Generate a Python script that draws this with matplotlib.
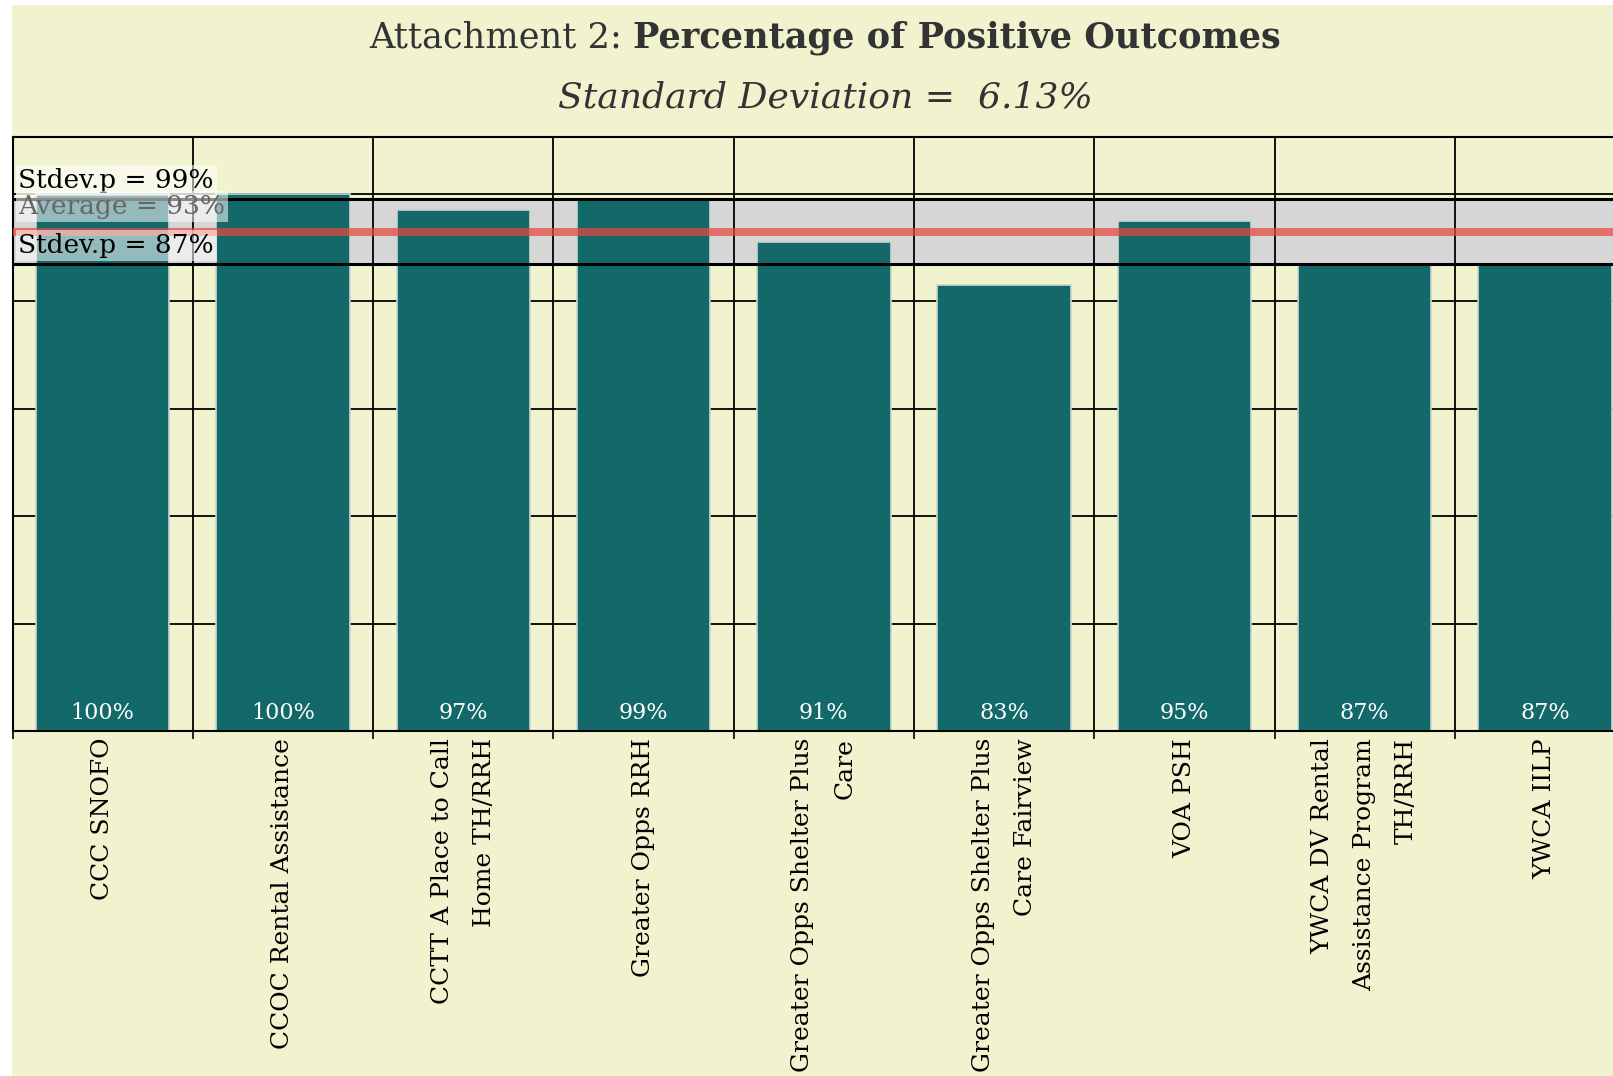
import matplotlib
matplotlib.use('Agg')
import matplotlib.pyplot as plt
import numpy as np
from matplotlib.patches import Rectangle

categories = ["CCC SNOFO", "CCOC Rental Assistance", "CCTT A Place to Call\nHome TH/RRH",
              "Greater Opps RRH", "Greater Opps Shelter Plus\nCare",
              "Greater Opps Shelter Plus\nCare Fairview", "VOA PSH",
              "YWCA DV Rental\nAssistance Program\nTH/RRH", "YWCA IILP"]
values = [100, 100, 97, 99, 91, 83, 95, 87, 87]
value_labels = ["100%", "100%", "97%", "99%", "91%", "83%", "95%", "87%", "87%"]
average = 93
stdev = 6.13
title_normal = "Attachment 2:"
title_bold = "Percentage of Positive Outcomes"
subtitle = "Standard Deviation =  6.13%"

BG = '#f1f2ce'
BAR = '#13686a'
FONT = 'DejaVu Serif'

W, H = 1613, 1076
fig = plt.figure(figsize=(W / 100, H / 100), dpi=100, facecolor='white')
fig.patches.append(Rectangle((12 / W, 0), 1, 1 - 5 / H, transform=fig.transFigure,
                             facecolor=BG, edgecolor='none', zorder=-10))

ax = fig.add_axes([12.5 / W, 1 - 731 / H, 9 * 180.3 / W, (731 - 137) / H])
ax.set_facecolor(BG)
x = np.arange(len(categories))

ax.axhspan(average - stdev, average + stdev, color='#d6d6d6', zorder=0.2, lw=0)
ax.bar(x, values, width=0.74, color=BAR, edgecolor='#c9d6d2', linewidth=1.2, zorder=2)
ax.axhline(average + stdev, color='black', lw=2.2, zorder=3)
ax.axhline(average - stdev, color='black', lw=2.2, zorder=3)
ax.axhline(average, color='#e6493e', alpha=0.72, lw=5.8, zorder=4)

for xi, lab in zip(x, value_labels):
    ax.annotate(lab, xy=(xi, 0), xytext=(0, 7), textcoords='offset pixels',
                ha='center', va='bottom', color='white', fontsize=16, family=FONT, zorder=6)

ytr = ax.get_yaxis_transform()
line_labels = [("Stdev.p = %d%%" % round(average + stdev), average + stdev, 'black', 18),
               ("Average = %d%%" % round(average), average, '#666666', 25),
               ("Stdev.p = %d%%" % round(average - stdev), average - stdev, 'black', 19)]
for txt, yv, col, off in line_labels:
    ax.annotate(txt, xy=(0, yv), xycoords=ytr, xytext=(6, off), textcoords='offset pixels',
                ha='left', va='center', color=col, fontsize=19, family=FONT, zorder=7,
                bbox=dict(facecolor='white', alpha=0.55, edgecolor='none', pad=2))

ax.set_xlim(-0.5, len(categories) - 0.5)
ax.set_ylim(0, 110.6)
ax.set_yticks([0, 20, 40, 60, 80, 100])
ax.tick_params(axis='y', length=0, labelleft=False)
ax.set_xticks(x)
ax.set_xticklabels(categories, rotation=90, fontsize=18, family=FONT, color='black',
                   multialignment='right', linespacing=2.05)
ax.set_xticks(np.arange(-0.5, len(categories), 1), minor=True)
ax.tick_params(axis='x', which='major', length=0, pad=5)
ax.tick_params(axis='x', which='minor', length=6, width=1.2, color='black', direction='out')
ax.set_axisbelow(True)
ax.yaxis.grid(True, color='black', lw=1.3)
ax.xaxis.grid(True, which='minor', color='black', lw=1.3)
ax.xaxis.grid(False, which='major')
for s in ax.spines.values():
    s.set_color('black')
    s.set_linewidth(1.5)

# Title
r = fig.canvas.get_renderer()
fs_t = 25.3
t1 = fig.text(0, 1 - 38 / H, title_normal, fontsize=fs_t, family=FONT, color='#333333', va='center')
t2 = fig.text(0, 1 - 38 / H, title_bold, fontsize=fs_t, family=FONT, fontweight='bold',
              color='#333333', va='center')
w1 = t1.get_window_extent(r).width
w2 = t2.get_window_extent(r).width
gap = 0.3 * fs_t * 100 / 72
x0 = 825 - (w1 + gap + w2) / 2
t1.set_x(x0 / W)
t2.set_x((x0 + w1 + gap) / W)
fig.text(825 / W, 1 - 97 / H, subtitle, fontsize=26, family=FONT, style='italic',
         color='#333333', ha='center', va='center')

fig.savefig('out.png', dpi=100, facecolor='white')
